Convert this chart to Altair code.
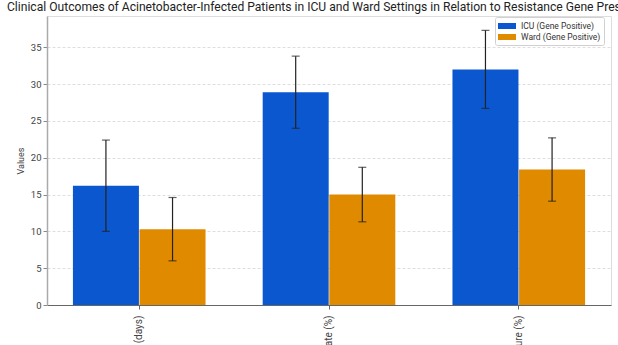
import altair as alt
import pandas as pd

# Outcome categories and group means / standard deviations
outcomes = ["Length of Hospital Stay (days)", "Mortality Rate (%)", "Treatment Failure (%)"]
groups = ["ICU (Gene Positive)", "Ward (Gene Positive)"]
icu_mean = [16.2, 28.9, 32.0]
icu_err = [6.2, 4.9, 5.3]
ward_mean = [10.3, 15.0, 18.4]
ward_err = [4.3, 3.7, 4.3]

rows = []
for i, o in enumerate(outcomes):
    rows.append({"outcome": o, "group": groups[0], "value": icu_mean[i], "err": icu_err[i]})
    rows.append({"outcome": o, "group": groups[1], "value": ward_mean[i], "err": ward_err[i]})
df = pd.DataFrame(rows)

FONT = "Roboto"
colors = ["#0B57D0", "#E08A00"]

x_enc = alt.X(
    "outcome:N",
    sort=outcomes,
    title=None,
    scale=alt.Scale(paddingInner=0.298, paddingOuter=0.135),
    axis=alt.Axis(
        labelAngle=-90,
        labelFont=FONT,
        labelFontSize=10,
        labelColor="#444",
        domainColor="#666",
        domainWidth=1,
        tickColor="#666",
        tickSize=4,
        labelPadding=6,
        grid=False,
    ),
)
y_scale = alt.Scale(domain=[0, 39.25], nice=False, zero=True)
y_axis = alt.Axis(
    title="Values",
    titleFont=FONT,
    titleFontSize=9,
    titleFontWeight="normal",
    titleColor="#444",
    titlePadding=5,
    labelFont=FONT,
    labelFontSize=9.5,
    labelColor="#444",
    values=[0, 5, 10, 15, 20, 25, 30, 35],
    domainColor="#aaa",
    domainWidth=1.5,
    tickColor="#888",
    tickSize=4,
    grid=True,
    gridColor="#d6d6d6",
    gridDash=[3, 2],
    gridWidth=0.8,
)
xoff = alt.XOffset("group:N", sort=groups, scale=alt.Scale(paddingInner=0, paddingOuter=0))

base = alt.Chart(df)

bars = base.mark_bar(size=66).encode(
    x=x_enc,
    xOffset=xoff,
    y=alt.Y("value:Q", scale=y_scale, axis=y_axis),
    color=alt.Color(
        "group:N",
        sort=groups,
        scale=alt.Scale(domain=groups, range=colors),
        legend=alt.Legend(
            title=None,
            orient="none",
            legendX=448,
            legendY=1,
            symbolType="M-1.5,-0.5L1.5,-0.5L1.5,0.5L-1.5,0.5Z",
            symbolSize=144,
            symbolStrokeWidth=0,
            symbolOffset=3,
            labelFont=FONT,
            labelFontSize=8.5,
            labelColor="#333",
            labelOffset=8,
            rowPadding=0,
            padding=3,
            strokeColor="#d0d0d0",
            fillColor="white",
            cornerRadius=2,
        ),
    ),
)

err = base.transform_calculate(
    lo="datum.value - datum.err", hi="datum.value + datum.err"
)

stems = err.mark_rule(color="#222", strokeWidth=1.2).encode(
    x=x_enc, xOffset=xoff,
    y=alt.Y("lo:Q", scale=y_scale), y2="hi:Q",
)
caps_hi = err.mark_tick(color="#222", thickness=1.2, size=8, orient="horizontal").encode(
    x=x_enc, xOffset=xoff, y=alt.Y("hi:Q", scale=y_scale),
)
caps_lo = err.mark_tick(color="#222", thickness=1.2, size=8, orient="horizontal").encode(
    x=x_enc, xOffset=xoff, y=alt.Y("lo:Q", scale=y_scale),
)

chart = (
    alt.layer(bars, stems, caps_hi, caps_lo)
    .properties(
        width=564,
        height=289,
        autosize=alt.AutoSizeParams(type="none"),
        padding={"left": 47, "top": 16, "right": 7, "bottom": 40},
        title=alt.TitleParams(
            "Clinical Outcomes of Acinetobacter-Infected Patients in ICU and Ward Settings in Relation to Resistance Gene Presence",
            anchor="start",
            frame="group",
            font=FONT,
            fontSize=12.1,
            fontWeight="normal",
            color="#222",
            dx=-40,
            offset=3,
        ),
    )
    .configure_view(stroke=None)
    .configure(background="white")
)

chart.save("out.html", embed_options={"renderer": "svg", "actions": False})
